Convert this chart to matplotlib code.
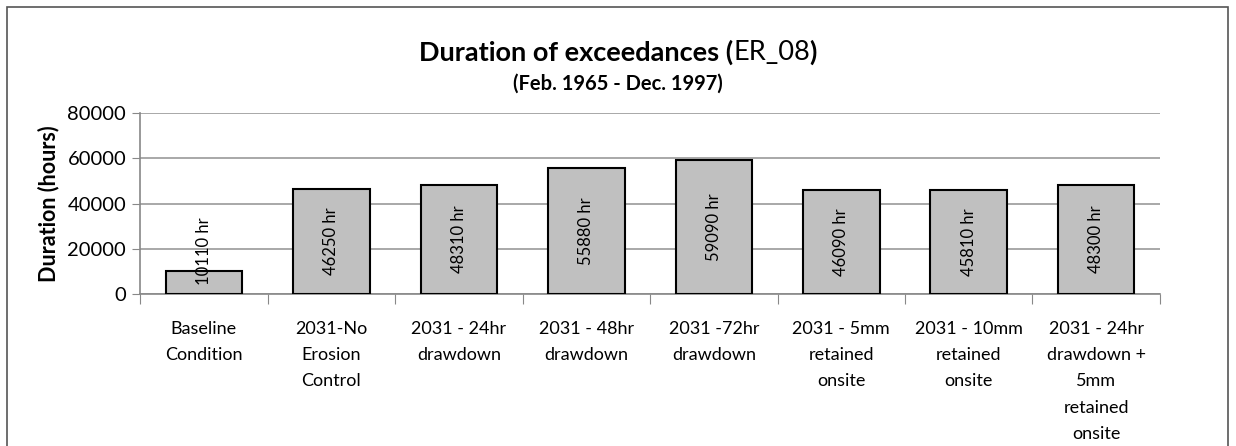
import matplotlib.pyplot as plt
from matplotlib.patches import Rectangle

categories = ['Baseline\nCondition', '2031-No\nErosion\nControl', '2031 - 24hr\ndrawdown',
              '2031 - 48hr\ndrawdown', '2031 -72hr\ndrawdown', '2031 - 5mm\nretained\nonsite',
              '2031 - 10mm\nretained\nonsite', '2031 - 24hr\ndrawdown +\n5mm\nretained\nonsite']
durations = [10110, 46250, 48310, 55880, 59090, 46090, 45810, 48300]
yticks = [0, 20000, 40000, 60000, 80000]

plt.rcParams['font.family'] = ['Lato', 'DejaVu Sans']

fig = plt.figure(figsize=(12.36, 4.46), dpi=100)
ax = fig.add_axes([0.1133, 0.3408, 0.8252, 0.4058])

# outer chart frame
fig.patches.append(Rectangle((0.0057, -0.05), 0.9881, 1.034, transform=fig.transFigure,
                             fill=False, edgecolor='#555555', linewidth=1.2))

x = list(range(len(durations)))
ax.bar(x, durations, width=0.6, color='#c0c0c0', edgecolor='black', linewidth=1.5, zorder=3)

for i, v in enumerate(durations):
    ax.text(i, max(v / 2, 19000), f'{v} hr', rotation=90, ha='center', va='center',
            fontsize=12, zorder=4)

ax.set_xlim(-0.5, len(durations) - 0.5)
ax.set_ylim(0, 80000)
ax.set_yticks(yticks)
ax.set_yticklabels([str(t) for t in yticks], fontsize=14.5)
ax.yaxis.grid(True, color='#999999', linewidth=1.2, zorder=0)
ax.tick_params(axis='y', length=6, color='#888888', pad=4)

ax.set_xticks([i - 0.5 for i in range(len(durations) + 1)], minor=False)
ax.set_xticklabels([])
ax.tick_params(axis='x', length=7, color='#888888')
for i, lab in enumerate(categories):
    ax.text(i, -0.15, lab, transform=ax.get_xaxis_transform(), ha='center', va='top',
            fontsize=13, linespacing=1.78)

for s in ['top', 'right']:
    ax.spines[s].set_visible(False)
for s in ['left', 'bottom']:
    ax.spines[s].set_color('#888888')
    ax.spines[s].set_linewidth(1.2)

ax.set_ylabel('Duration (hours)', fontsize=15.5, fontweight='bold', labelpad=6)

# title with mixed weight
fig.canvas.draw()
r = fig.canvas.get_renderer()
parts = [('Duration of exceedances (', 'bold'), ('ER_08', 'normal'), (')', 'bold')]
texts = [fig.text(0, 0.883, p, fontsize=19.5, fontweight=w, va='center') for p, w in parts]
widths = [t.get_window_extent(r).width for t in texts]
xpos = 618 - sum(widths) / 2
for t, w in zip(texts, widths):
    t.set_x(xpos / 1236)
    xpos += w
fig.text(0.5, 0.812, '(Feb. 1965 - Dec. 1997)', fontsize=14.5, fontweight='bold',
         ha='center', va='center')

fig.savefig('out.png', dpi=100)
